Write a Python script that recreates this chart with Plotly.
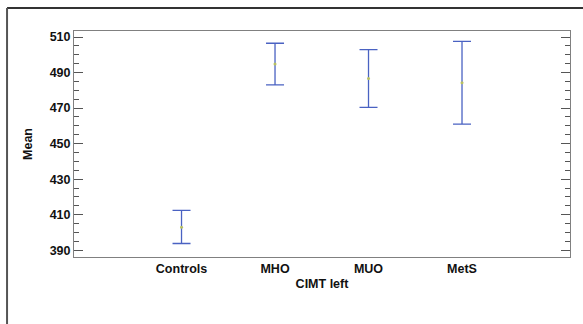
import plotly.graph_objects as go

categories = ["Controls", "MHO", "MUO", "MetS"]
means = [403.0, 494.8, 486.7, 484.3]
upper = [412.4, 506.5, 502.9, 507.6]
lower = [393.8, 483.1, 470.4, 461.0]
y_ticks = [390, 410, 430, 450, 470, 490, 510]

xpos = list(range(1, len(categories) + 1))
err_plus = [u - m for u, m in zip(upper, means)]
err_minus = [m - l for m, l in zip(means, lower)]

fig = go.Figure()
fig.add_trace(go.Scatter(
    x=xpos, y=means, mode="markers",
    marker=dict(size=3, color="#b8c060"),
    error_y=dict(type="data", symmetric=False, array=err_plus, arrayminus=err_minus,
                 color="#4a62c2", thickness=1.3, width=9),
    showlegend=False,
))

font = dict(family="Liberation Sans, Arial", size=12.5, color="#111111")

fig.update_layout(
    width=583, height=324,
    margin=dict(l=74, r=13, t=31, b=67),
    paper_bgcolor="white", plot_bgcolor="white",
    font=font,
    xaxis=dict(
        range=[-0.15, 5.155], tickvals=xpos,
        ticktext=["<b>%s</b>" % c for c in categories],
        showgrid=False, zeroline=False, ticks="",
        showline=True, linecolor="#808080", linewidth=1, mirror=True,
        title=dict(text="<b>CIMT left</b>", standoff=4, font=font),
    ),
    yaxis=dict(
        range=[386.2, 513.4], tickvals=y_ticks,
        ticktext=["<b>%d</b>" % v for v in y_ticks],
        showgrid=False, zeroline=False,
        ticks="inside", ticklen=9, tickcolor="#555555", tickwidth=1,
        minor=dict(dtick=5, tick0=390, ticks="inside", ticklen=5, tickcolor="#555555", showgrid=False),
        showline=True, linecolor="#808080", linewidth=1, mirror="ticks",
        title=dict(text="<b>Mean</b>", standoff=14, font=font),
    ),
)

# outer frame lines (top and left)
fig.add_shape(type="line", xref="paper", yref="paper", x0=-0.135, x1=1.03, y0=1.1018, y1=1.1018,
              line=dict(color="#333333", width=2))
fig.add_shape(type="line", xref="paper", yref="paper", x0=-0.135, x1=-0.135, y0=1.1018, y1=-0.3,
              line=dict(color="#555555", width=2))

fig.write_html("out.html", config={"displayModeBar": False},
               post_script="document.body.style.margin='0';document.body.style.overflow='hidden';")
